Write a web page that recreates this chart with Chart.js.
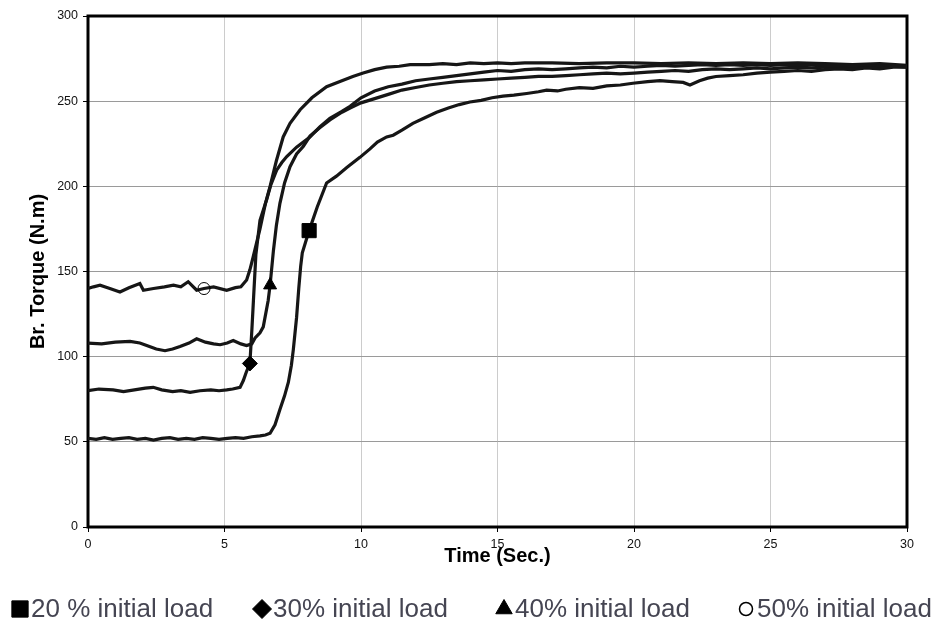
<!DOCTYPE html>
<html>
<head>
<meta charset="utf-8">
<script src="https://cdn.jsdelivr.net/npm/chart.js@4/dist/chart.umd.min.js"></script>
<style>
  html, body { margin: 0; padding: 0; background: #fff; }
  #wrap { width: 934px; height: 623px; }
</style>
</head>
<body>
<div id="wrap"><canvas id="myChart"></canvas></div>
<script>
// series labels and the one marker time each curve carries
const seriesLabels = ['20 % initial load', '30% initial load', '40% initial load', '50% initial load']
const markerTimes = [8.1, 5.93, 6.67, 4.25]

// [time (s), torque (N.m)]
const load20 = [[0,52],[0.3,51.5],[0.6,52.5],[0.9,51.5],[1.2,52],[1.5,52.5],[1.8,51.5],[2.1,52],[2.4,51],[2.7,52],
  [3.0,52.5],[3.3,51.5],[3.6,52],[3.9,51.5],[4.2,52.5],[4.5,52],[4.8,51.5],[5.1,52],[5.4,52.5],[5.7,52],
  [6.0,53],[6.3,53.5],[6.5,54],[6.67,55],[6.85,60],[7.03,69],[7.2,77],[7.34,85],[7.45,95],[7.52,104],
  [7.64,123],[7.72,140],[7.79,153],[7.85,161],[8.1,174],[8.4,188],[8.74,202],[9.1,206],[9.48,211],[9.96,217],
  [10.33,222],[10.6,226],[10.94,229],[11.18,230],[11.5,233],[11.9,237],[12.3,240],[12.77,243.5],[13.2,246],[13.6,248],
  [13.99,249.5],[14.4,250.5],[14.8,252],[15.2,253],[15.6,253.5],[16.07,254.5],[16.5,255.5],[16.8,256.5],[17.2,256],[17.5,257],
  [18,258],[18.5,257.5],[19,259],[19.5,259.5],[19.96,260.5],[20.5,261.5],[20.95,262],[21.4,261.5],[21.8,261],[22.05,259.5],
  [22.4,262],[22.7,263.5],[23,264.5],[23.5,265],[24,265.5],[24.5,266.5],[25,267],[25.5,267.5],[26,268],[26.5,267.5],
  [27,268.5],[27.5,269],[28,268.5],[28.5,269.5],[29,269],[29.5,270],[30,270]]

const load30 = [[0,80],[0.4,81],[0.92,80.5],[1.3,79.5],[1.7,80.5],[2.1,81.5],[2.39,82],[2.7,80.5],[3.1,79.5],[3.4,80],
  [3.74,79],[4.1,80],[4.5,80.5],[4.8,80],[5.08,80.5],[5.3,81],[5.57,82],[5.69,86],[5.8,91],[5.93,96],
  [6.0,115],[6.06,133],[6.15,160],[6.3,180],[6.54,192],[6.7,201],[6.91,209.5],[7.1,214],[7.28,217.5],[7.64,223],
  [8.13,229],[8.5,235],[8.86,240],[9.3,244],[9.6,247],[10,252],[10.5,256],[11,258.5],[11.5,260],[12,262],
  [12.5,263],[13,264],[13.5,265],[14,266],[14.5,267],[15,268],[15.5,267.5],[16,268.5],[16.5,269],[17,268.5],
  [17.5,269],[18,269.5],[18.5,270],[19,269.5],[19.5,270.5],[20,270],[20.5,270.5],[21,271],[21.5,270.5],[22,271],
  [22.5,271.5],[23,271],[23.5,271.5],[24,271],[24.5,271.5],[25,271],[25.5,271.5],[26,271],[26.5,271.5],[27,271],
  [27.5,271],[28,271.5],[28.5,271],[29,270.5],[29.5,271],[30,270.5]]

const load40 = [[0,108],[0.5,107.5],[1,108.5],[1.54,109],[1.9,108],[2.15,106.5],[2.5,104.5],[2.82,103.5],[3.1,104.5],[3.37,106],
  [3.7,108],[3.98,110.5],[4.3,108.5],[4.6,107.5],[4.84,107],[5.1,108],[5.32,109.5],[5.6,107.5],[5.81,106.5],[6.0,107.5],
  [6.12,111],[6.3,114],[6.42,117.5],[6.6,133],[6.67,142],[6.79,162],[6.9,177],[7.03,190],[7.2,202],[7.4,211.5],
  [7.64,219],[7.89,223.5],[8.13,229.5],[8.5,234.5],[8.86,239],[9.3,243.5],[9.6,246],[10,249],[10.5,251.5],[11,254],
  [11.5,256.5],[12,258],[12.5,259.5],[13,260.5],[13.5,261.5],[14,262],[14.5,262.5],[15,263],[15.5,263.5],[16,264],
  [16.5,264.5],[17,264.5],[17.5,265],[18,265.5],[18.5,266],[19,266.5],[19.5,266],[20,266.5],[20.5,267],[21,267.5],
  [21.5,268],[22,267.5],[22.5,268.5],[23,269],[23.5,268.5],[24,269],[24.5,269.5],[25,269],[25.5,269.5],[26,270],
  [26.5,269.5],[27,270],[27.5,270.5],[28,270],[28.5,270.5],[29,270],[29.5,270.5],[30,270]]

const load50 = [[0,140],[0.2,141],[0.44,142],[0.8,140],[1.17,138],[1.5,140.5],[1.9,143],[2.03,139],[2.4,140],[2.8,141],
  [3.13,142],[3.4,141],[3.67,144],[3.98,139],[4.25,140],[4.6,141],[5.08,139],[5.4,140.5],[5.6,141],[5.81,145],
  [5.93,151],[6.05,158.5],[6.3,175],[6.5,190],[6.67,200],[6.9,215],[7.15,229],[7.4,237],[7.77,245],[8.2,252],
  [8.74,258.5],[9.3,262],[9.7,264.5],[10.08,266.5],[10.5,268.5],[10.94,270],[11.4,270.5],[11.8,271.5],[12.5,271.5],[13,272],
  [13.5,271.5],[14,272.5],[14.5,272],[15,272.5],[15.5,272],[16,272.5],[17,272.5],[18,272],[19,272.5],[20,272.5],
  [21,272],[22,272.5],[23,272],[24,272.5],[25,272],[26,272.5],[27,272],[28,271.5],[29,272],[30,271]]

const xTicks = [0, 5, 10, 15, 20, 25, 30]
const yTicks = [0, 50, 100, 150, 200, 250, 300]

const FONT = '"Liberation Sans", Arial, sans-serif'

// point styles per series (plot marker, legend marker)
const styles = [
  { pointStyle: 'rect', radius: 10, legendRadius: 11.5, fill: '#000' },
  { pointStyle: 'rectRot', radius: 7.5, legendRadius: 9.5, fill: '#000' },
  { pointStyle: 'triangle', radius: 7.5, legendRadius: 9.5, fill: '#000' },
  { pointStyle: 'circle', radius: 6, legendRadius: 6.5, fill: 'rgba(0,0,0,0)' }
]

let makeDataset = (pairs, i) => {
  let st = styles[i]
  return {
    label: seriesLabels[i],
    data: pairs.map(p => ({ x: p[0], y: p[1] })),
    borderColor: '#161616',
    borderWidth: 3.2,
    tension: 0,
    pointStyle: st.pointStyle,
    pointBackgroundColor: st.fill,
    pointBorderColor: '#000',
    pointBorderWidth: 1,
    pointRadius: ctx => (ctx.raw && ctx.raw.x === markerTimes[i]) ? st.radius : 0,
    pointHoverRadius: 0,
    legendRadius: st.legendRadius
  }
}

// thick frame round the plot + the bottom legend row
const framePlugin = {
  id: 'frame',
  beforeDatasetsDraw(chart) {
    const { ctx, chartArea: a } = chart
    ctx.save()
    ctx.lineWidth = 3
    ctx.strokeStyle = '#000'
    ctx.strokeRect(a.left, a.top, a.right - a.left, a.bottom - a.top)
    ctx.restore()
  },
  afterDraw(chart) {
    const ctx = chart.ctx
    chart.data.datasets.forEach((ds, i) => {
      const cx = 20 + i * 242
      const cy = 609
      ctx.save()
      ctx.fillStyle = ds.pointBackgroundColor
      ctx.strokeStyle = '#000'
      ctx.lineWidth = i === 3 ? 1.5 : 1
      Chart.helpers.drawPoint(ctx, {
        pointStyle: ds.pointStyle,
        radius: ds.legendRadius,
        rotation: 0,
        borderWidth: i === 3 ? 1.5 : 1
      }, cx, cy)
      ctx.restore()
      ctx.save()
      ctx.font = '26px ' + FONT
      ctx.textBaseline = 'alphabetic'
      ctx.textAlign = 'left'
      ctx.fillStyle = '#454552'
      ctx.fillText(ds.label, cx + 11, 617)
      ctx.restore()
    })
  }
}

const config = {
  type: 'line',
  data: { datasets: [load20, load30, load40, load50].map(makeDataset) },
  options: {
    responsive: true,
    maintainAspectRatio: false,
    animation: false,
    layout: { padding: { left: 0, top: 16, right: 27, bottom: 0 } },
    plugins: { legend: { display: false }, tooltip: { enabled: false } },
    scales: {
      x: {
        type: 'linear',
        min: 0, max: 30,
        afterBuildTicks: s => { s.ticks = xTicks.map(v => ({ value: v })) },
        afterFit: s => { s.height = 96 },
        ticks: { color: '#111', font: { family: FONT, size: 12.5 }, padding: 5, maxRotation: 0 },
        grid: { color: '#cccccc', lineWidth: 1, tickLength: 5, tickColor: '#000' },
        border: { display: false },
        title: { display: true, text: 'Time (Sec.)', color: '#000',
          font: { family: FONT, size: 20, weight: 'bold' }, padding: { top: 0, bottom: 55 } }
      },
      y: {
        min: 0, max: 300,
        afterBuildTicks: s => { s.ticks = yTicks.map(v => ({ value: v })) },
        afterFit: s => { s.width = 88 },
        ticks: { color: '#111', font: { family: FONT, size: 12.5 }, padding: 5 },
        grid: { color: '#9a9a9a', lineWidth: 1, tickLength: 5, tickColor: '#000' },
        border: { display: false },
        title: { display: true, text: 'Br. Torque (N.m)', color: '#000',
          font: { family: FONT, size: 20, weight: 'bold' }, padding: { top: 26, bottom: 0 } }
      }
    }
  },
  plugins: [framePlugin]
}

const myChart = new Chart(document.getElementById('myChart'), config)
</script>
</body>
</html>
